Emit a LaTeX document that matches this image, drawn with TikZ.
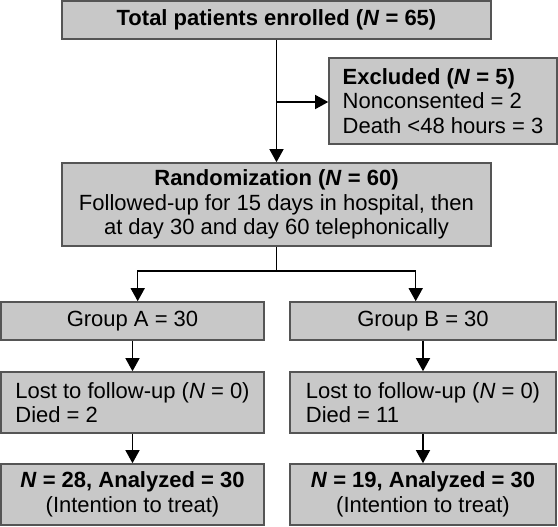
\documentclass[tikz,border=0pt]{standalone}
\usepackage{fontspec}
\setmainfont{Liberation Sans}
\usetikzlibrary{arrows.meta}
\definecolor{boxfill}{RGB}{200,200,200}
\definecolor{boxline}{RGB}{85,85,85}
\begin{document}
\begin{tikzpicture}[x=1pt,y=-1pt,
  box/.style={draw=boxline,fill=boxfill,line width=1.6pt,inner sep=0pt,
    font=\fontsize{22}{24.7}\selectfont},
  conn/.style={line width=1.4pt,-{Triangle[width=14pt,length=13pt]}},
  plainline/.style={line width=1.4pt}]
\useasboundingbox (0,0) rectangle (558,527);

\node[box,minimum width=429pt,minimum height=38pt] (total) at (276.5,20)
  {\textbf{Total patients enrolled (\textit{N} = 65)}};
\node[box,minimum width=228pt,minimum height=86pt,align=left] (excl) at (443,101)
  {\textbf{Excluded (\textit{N} = 5)}\\Nonconsented = 2\\Death <48 hours = 3};
\node[box,minimum width=429pt,minimum height=83pt,align=center] (rand) at (276.5,204.5)
  {\textbf{Randomization (\textit{N} = 60)}\\Followed-up for 15 days in hospital, then\\at day 30 and day 60 telephonically};
\node[box,minimum width=263pt,minimum height=38pt] (ga) at (132.5,321) {Group A = 30};
\node[box,minimum width=266pt,minimum height=38pt] (gb) at (423,321) {Group B = 30};
\node[box,minimum width=263pt,minimum height=61pt,align=left] (la) at (132.5,402.5)
  {Lost to follow-up (\textit{N} = 0)\\Died = 2};
\node[box,minimum width=266pt,minimum height=61pt,align=left] (lb) at (423,402.5)
  {Lost to follow-up (\textit{N} = 0)\\Died = 11};
\node[box,minimum width=263pt,minimum height=61pt,align=center] (fa) at (132.5,494.5)
  {\textbf{\textit{N} = 28, Analyzed = 30}\\(Intention to treat)};
\node[box,minimum width=266pt,minimum height=61pt,align=center] (fb) at (423,494.5)
  {\textbf{\textit{N} = 19, Analyzed = 30}\\(Intention to treat)};

\coordinate (br) at (276.5,102);
\coordinate (split) at (276.5,271);
\coordinate (sa) at (137.7,271);
\coordinate (sb) at (415.7,271);

\draw[conn] (total.south) -- (rand.north);
\draw[conn] (br) -- (excl.west |- br);
\draw[plainline] (rand.south) -- (split);
\draw[conn] (split) -| (sa |- ga.north);
\draw[conn] (split) -| (sb |- gb.north);
\draw[conn] (ga.south) -- (la.north);
\draw[conn] (gb.south) -- (lb.north);
\draw[conn] (la.south) -- (fa.north);
\draw[conn] (lb.south) -- (fb.north);
\end{tikzpicture}
\end{document}
